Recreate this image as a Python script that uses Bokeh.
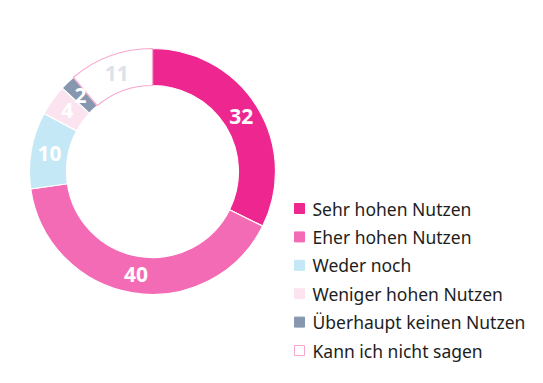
import numpy as np
from bokeh.plotting import figure
from bokeh.models import ColumnDataSource, Range1d
from bokeh.core.properties import value
from bokeh.embed import file_html
from bokeh.resources import INLINE

categories = ["Sehr hohen Nutzen", "Eher hohen Nutzen", "Weder noch",
              "Weniger hohen Nutzen", "Überhaupt keinen Nutzen", "Kann ich nicht sagen"]
values = [32, 40, 10, 4, 2, 11]
fills = ["#EE2790", "#F46BB5", "#C4E8F6", "#FCE3F0", "#8797AF", "#FFFFFF"]
edges = ["#FFFFFF", "#FFFFFF", "#FFFFFF", "#FFFFFF", "#FFFFFF", "#F7A6CE"]
label_colors = ["#FFFFFF", "#FFFFFF", "#FFFFFF", "#FFFFFF", "#FFFFFF", "#DCE2EA"]

W, H = 527, 367
FONT = "Noto Sans"
cx, cy = 152, H - 171
r_out, r_in = 123, 86

vals = np.array(values, dtype=float)
total = vals.sum()
cum = np.concatenate([[0], np.cumsum(vals)])
start = np.pi / 2 - cum[:-1] / total * 2 * np.pi
end = np.pi / 2 - cum[1:] / total * 2 * np.pi
mid = (start + end) / 2
r_mid = (r_out + r_in) / 2

src = ColumnDataSource(dict(start=start, end=end, fill=fills, edge=edges,
                            x=[cx] * len(values), y=[cy] * len(values)))

p = figure(width=W, height=H, x_range=Range1d(0, W), y_range=Range1d(0, H),
           output_backend="svg", toolbar_location=None, min_border=0)
p.axis.visible = False
p.grid.visible = False
p.outline_line_color = None
p.background_fill_color = "white"

p.annular_wedge(x="x", y="y", inner_radius=r_in, outer_radius=r_out,
                inner_radius_units="screen", outer_radius_units="screen",
                start_angle="start", end_angle="end", direction="clock",
                fill_color="fill", line_color="edge", line_width=1.2, source=src)

lab = ColumnDataSource(dict(x=cx + r_mid * np.cos(mid), y=cy + r_mid * np.sin(mid),
                            t=[str(v) for v in values], c=label_colors))
p.text(x="x", y="y", text="t", text_color="c", source=lab,
       text_align="center", text_baseline="middle",
       text_font=value(FONT), text_font_size="21px", text_font_style="bold")

# legend
n = len(categories)
lx = 299
ly = H - 208 - np.arange(n) * 28.4
leg = ColumnDataSource(dict(x=[lx] * n, y=ly, fill=fills,
                            edge=[f if e == "#FFFFFF" else e for f, e in zip(fills, edges)],
                            tx=[lx + 13] * n, t=categories))
p.rect(x="x", y="y", width=10, height=10, width_units="screen", height_units="screen",
       fill_color="fill", line_color="edge", line_width=1, source=leg)
p.text(x="tx", y="y", text="t", source=leg, text_color="#1E1E1E",
       text_align="left", text_baseline="middle",
       text_font=value(FONT), text_font_size="17.5px")

open("out.html", "w").write(file_html(p, INLINE))
